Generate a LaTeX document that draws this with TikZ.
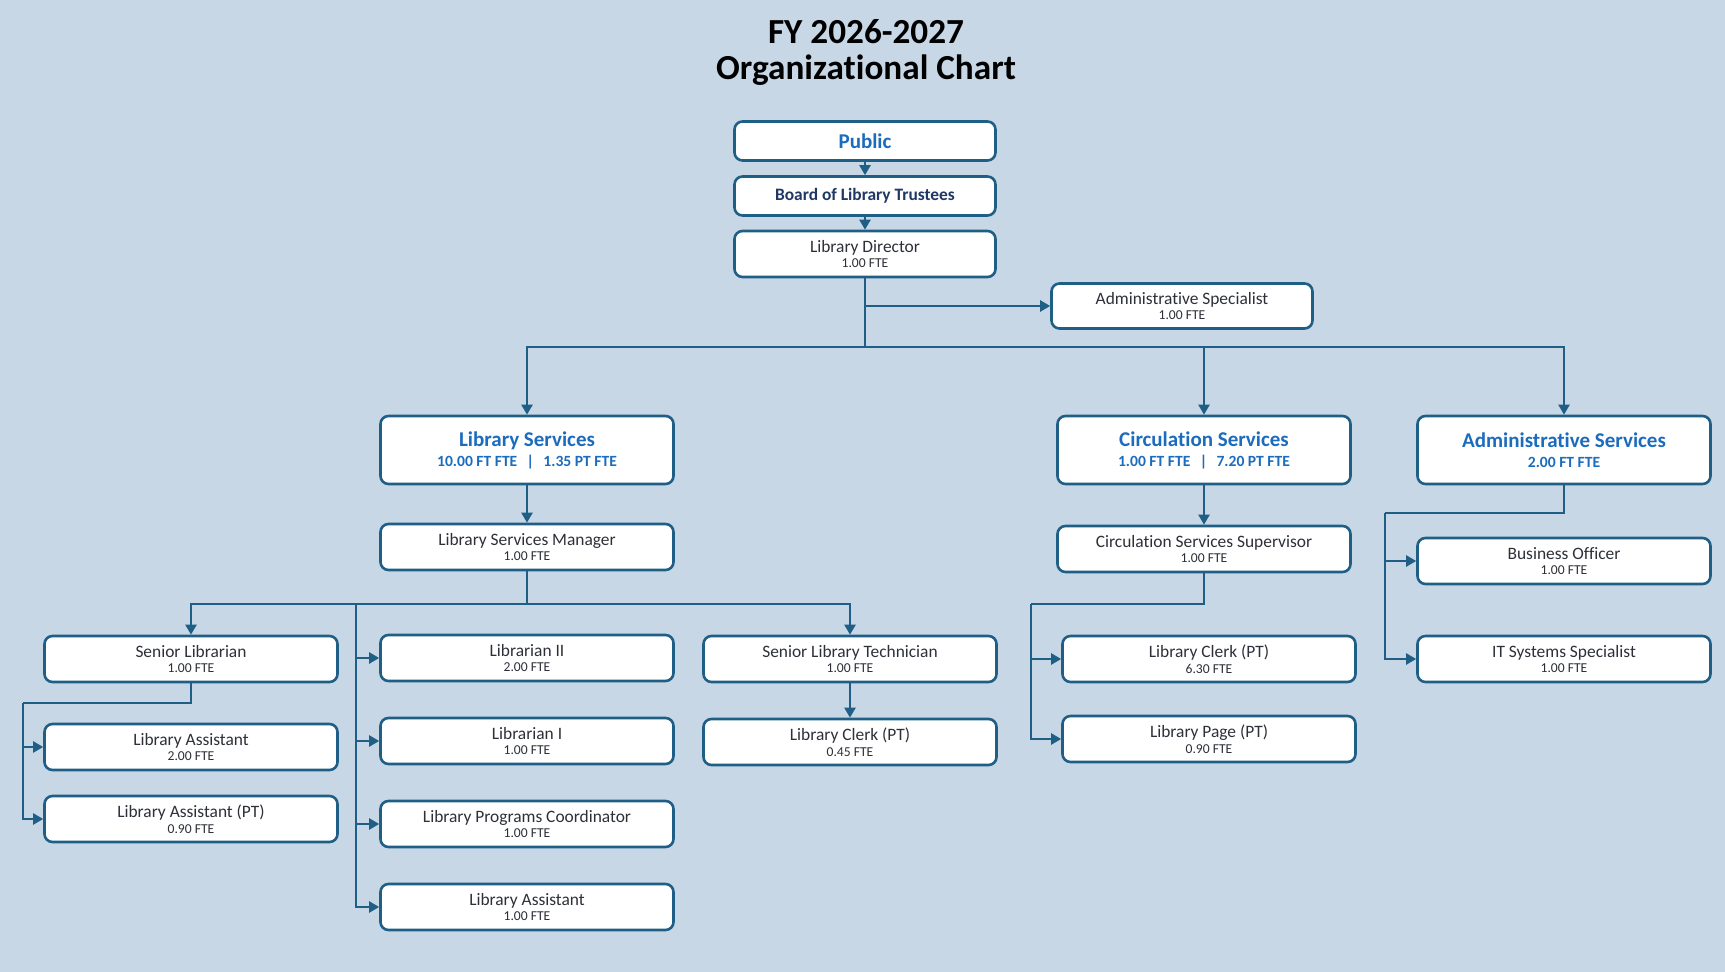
\documentclass[tikz,border=0pt]{standalone}
\usepackage{fontspec}
\setmainfont{Carlito}[Ligatures=NoCommon]
\usetikzlibrary{arrows.meta, calc}
\definecolor{chartbg}{RGB}{200,215,230}
\definecolor{chartline}{RGB}{31,95,133}
\definecolor{chartblue}{RGB}{28,108,190}
\definecolor{chartnavy}{RGB}{31,56,100}
\definecolor{charttext}{RGB}{45,48,56}
\newcommand{\ftesize}{\fontsize{6.8}{7.8}\selectfont}
\newcommand{\subsize}{\fontsize{7.8}{9.9}\selectfont}
\tikzset{
    org-box/.style={
        draw=chartline, line width=1.3pt, fill=white, rounded corners=4pt,
        inner sep=0pt, align=center, text=charttext,
        font=\fontsize{8.7}{7.8}\selectfont,
        minimum width=146.5pt, minimum height=23pt
    },
    org-top-box/.style={
        org-box, minimum width=130.5pt, minimum height=19.5pt
    },
    org-dept-box/.style={
        org-box, minimum height=34pt, text=chartblue,
        font=\fontsize{10.5}{9.9}\selectfont\bfseries
    },
    org-link/.style={
        draw=chartline, line width=1.1pt
    },
    org-arrow/.style={
        org-link, -{Triangle[length=5pt,width=5.5pt]}
    },
}

\begin{document}
\begin{tikzpicture}[x=0.5pt, y=-0.5pt]

        % BACKGROUND
        \fill[chartbg] (0,0) rectangle (1725,972);
        \useasboundingbox (0,0) rectangle (1725,972);

        % TITLE
        \node[align=center, font=\fontsize{17.6}{18}\selectfont\bfseries] (TITLE) at (866,52) {FY 2026-2027\\Organizational Chart};

        % TOP OF THE CHART
        \node[org-top-box, text=chartblue, font=\fontsize{10.5}{10}\selectfont\bfseries] (PUB)     at (865,141)  {Public};
        \node[org-top-box, text=chartnavy, font=\fontsize{8.7}{9}\selectfont\bfseries]   (BOARD)   at (865,196)  {Board of Library Trustees};
        \node[org-top-box, minimum height=23pt]                                          (DIR)     at (865,254)  {Library Director\\\ftesize 1.00 FTE};
        \node[org-top-box, minimum height=22.5pt]                                        (ADMSPEC) at (1182,306) {Administrative Specialist\\\ftesize 1.00 FTE};

        % DEPARTMENTS
        \node[org-dept-box] (LIBSRV)  at (527,450)  {Library Services\\\subsize 10.00 FT FTE\hspace{0.6em}|\hspace{0.6em}1.35 PT FTE};
        \node[org-dept-box] (CIRCSRV) at (1204,450) {Circulation Services\\\subsize 1.00 FT FTE\hspace{0.6em}|\hspace{0.6em}7.20 PT FTE};
        \node[org-dept-box] (ADMSRV)  at (1564,450) {Administrative Services\\\subsize 2.00 FT FTE};

        % LIBRARY SERVICES STAFF
        \node[org-box] (LSM)   at (527,547) {Library Services Manager\\\ftesize 1.00 FTE};
        \node[org-box] (SRLIB) at (191,659) {Senior Librarian\\\ftesize 1.00 FTE};
        \node[org-box] (LA2)   at (191,747) {Library Assistant\\\ftesize 2.00 FTE};
        \node[org-box] (LAPT)  at (191,819) {Library Assistant (PT)\\\ftesize 0.90 FTE};
        \node[org-box] (LIB2)  at (527,658) {Librarian II\\\ftesize 2.00 FTE};
        \node[org-box] (LIB1)  at (527,741) {Librarian I\\\ftesize 1.00 FTE};
        \node[org-box] (LPC)   at (527,824) {Library Programs Coordinator\\\ftesize 1.00 FTE};
        \node[org-box] (LA1)   at (527,907) {Library Assistant\\\ftesize 1.00 FTE};
        \node[org-box] (SLT)   at (850,659) {Senior Library Technician\\\ftesize 1.00 FTE};
        \node[org-box] (LCLK1) at (850,742) {Library Clerk (PT)\\\ftesize 0.45 FTE};

        % CIRCULATION SERVICES STAFF
        \node[org-box] (CSS)   at (1204,549) {Circulation Services Supervisor\\\ftesize 1.00 FTE};
        \node[org-box] (LCLK2) at (1209,659) {Library Clerk (PT)\\\ftesize 6.30 FTE};
        \node[org-box] (LPAGE) at (1209,739) {Library Page (PT)\\\ftesize 0.90 FTE};

        % ADMINISTRATIVE SERVICES STAFF
        \node[org-box] (BUSOFF) at (1564,561) {Business Officer\\\ftesize 1.00 FTE};
        \node[org-box] (ITSPEC) at (1564,659) {IT Systems Specialist\\\ftesize 1.00 FTE};

        % TOP CONNECTIONS
        \draw[org-arrow] (PUB) -- (BOARD);
        \draw[org-arrow] (BOARD) -- (DIR);
        \coordinate (DIRJ) at ($(DIR.south) + (0,69)$);
        \draw[org-link]  (DIR) -- (DIRJ);
        \draw[org-arrow] (DIR.south |- ADMSPEC.west) -- (ADMSPEC);
        \foreach \dept in {LIBSRV, CIRCSRV, ADMSRV}
            \draw[org-arrow] (DIRJ) -| (\dept.north);

        % LIBRARY SERVICES CONNECTIONS
        \draw[org-arrow] (LIBSRV) -- (LSM);
        \coordinate (LSMJ)     at ($(LSM.south) + (0,33)$);
        \coordinate (LSMSPINE) at ($(LSMJ) + (-171,0)$);
        \draw[org-link]  (LSM) -- (LSMJ);
        \draw[org-arrow] (LSMJ) -| (SRLIB.north);
        \draw[org-arrow] (LSMJ) -| (SLT.north);
        \foreach \job in {LIB2, LIB1, LPC, LA1}
            \draw[org-arrow] (LSMSPINE) |- (\job.west);
        \coordinate (SRLIBJ) at ($(SRLIB.south) + (-168,20)$);
        \draw[org-link]  (SRLIB.south) |- (SRLIBJ);
        \foreach \job in {LA2, LAPT}
            \draw[org-arrow] (SRLIBJ) |- (\job.west);
        \draw[org-arrow] (SLT) -- (LCLK1);

        % CIRCULATION SERVICES CONNECTIONS
        \draw[org-arrow] (CIRCSRV) -- (CSS);
        \coordinate (CSSJ) at ($(CSS.south) + (-173,31)$);
        \draw[org-link]  (CSS.south) |- (CSSJ);
        \foreach \job in {LCLK2, LPAGE}
            \draw[org-arrow] (CSSJ) |- (\job.west);

        % ADMINISTRATIVE SERVICES CONNECTIONS
        \coordinate (ADMSRVJ) at ($(ADMSRV.south) + (-179,28)$);
        \draw[org-link]  (ADMSRV.south) |- (ADMSRVJ);
        \foreach \job in {BUSOFF, ITSPEC}
            \draw[org-arrow] (ADMSRVJ) |- (\job.west);

    \end{tikzpicture}
\end{document}
